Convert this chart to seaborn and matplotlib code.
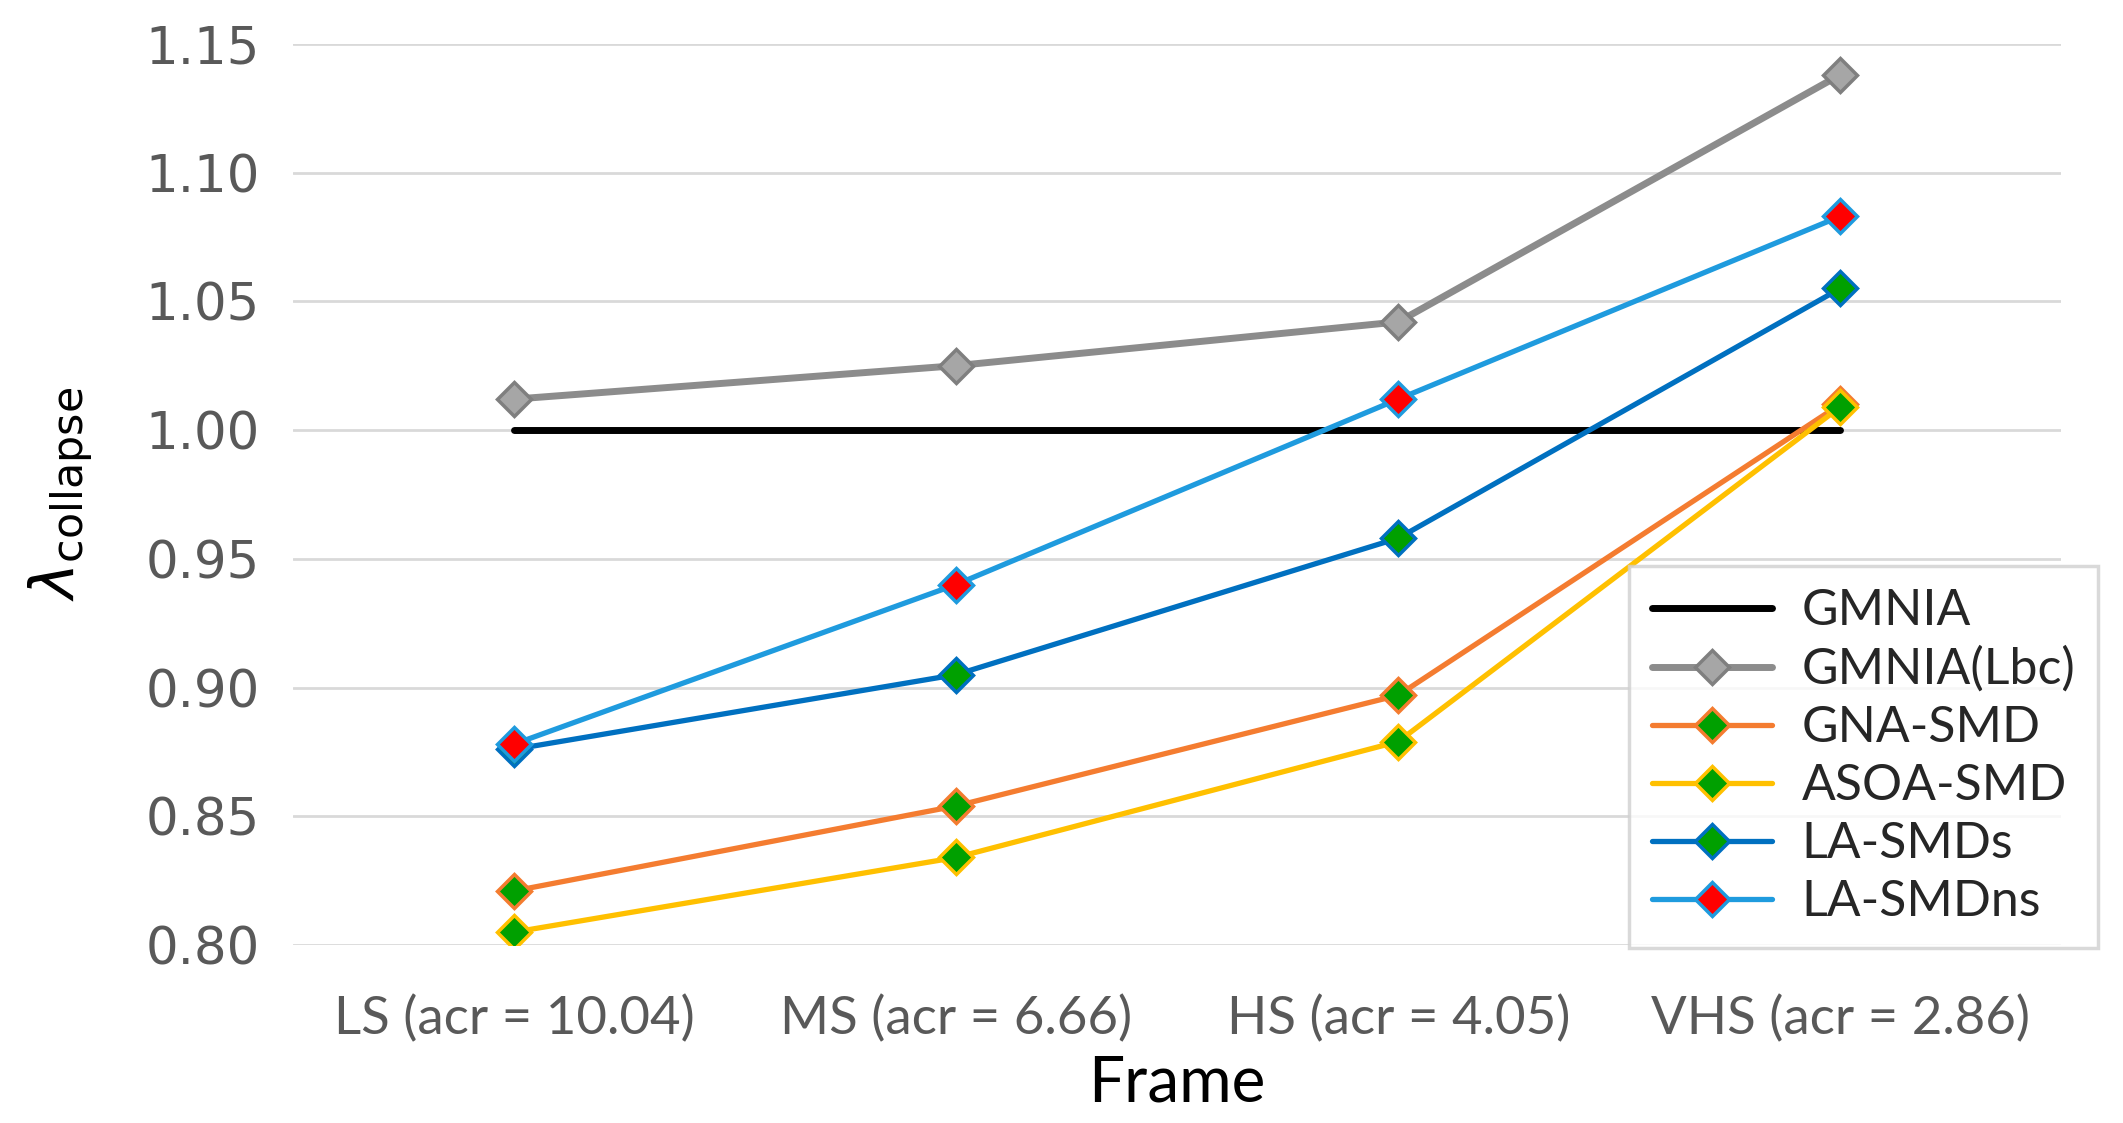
import numpy as np
import pandas as pd
import matplotlib
matplotlib.use("Agg")
import matplotlib.pyplot as plt
import seaborn as sns

frames = ["LS (acr = 10.04)", "MS (acr = 6.66)", "HS (acr = 4.05)", "VHS (acr = 2.86)"]

gmnia = [1.000, 1.000, 1.000, 1.000]
gmnia_lbc = [1.012, 1.025, 1.042, 1.138]
gna_smd = [0.821, 0.854, 0.897, 1.010]
asoa_smd = [0.805, 0.834, 0.879, 1.009]
la_smds = [0.876, 0.905, 0.958, 1.055]
la_smdns = [0.878, 0.940, 1.012, 1.083]

yticks = [0.80, 0.85, 0.90, 0.95, 1.00, 1.05, 1.10, 1.15]

sns.set_theme(style="white")
plt.rcParams['font.family'] = ['Lato', 'DejaVu Sans']

fig = plt.figure(figsize=(21.23, 11.23), dpi=100)
ax = fig.add_axes([0.138, 0.1585, 0.833, 0.8025])

# name, values, line colour, marker face, marker edge, line width
series = [
    ("GMNIA", gmnia, "#000000", None, None, 5.0),
    ("GMNIA(Lbc)", gmnia_lbc, "#8C8C8C", "#A6A6A6", "#7F7F7F", 5.0),
    ("GNA-SMD", gna_smd, "#F47C30", "#00A000", "#F47C30", 3.8),
    ("ASOA-SMD", asoa_smd, "#FFC000", "#00A000", "#FFC000", 3.8),
    ("LA-SMDs", la_smds, "#0070C0", "#00A000", "#0070C0", 3.8),
    ("LA-SMDns", la_smdns, "#1F9BDE", "#FF0000", "#1F9BDE", 3.8),
]

for name, vals, col, face, edge, lw in series:
    df = pd.DataFrame({"frame": frames, "lam": vals})
    if face is None:
        sns.lineplot(data=df, x="frame", y="lam", sort=False, color=col,
                     linewidth=lw, solid_capstyle="round", label=name, ax=ax)
    else:
        sns.lineplot(data=df, x="frame", y="lam", sort=False, color=col,
                     linewidth=lw, marker="D", markersize=17,
                     markerfacecolor=face, markeredgecolor=edge,
                     markeredgewidth=2.5, label=name, ax=ax)

ax.set_xlim(-0.5, 3.5)
ax.set_ylim(0.80, 1.15)
ax.set_yticks(yticks)
ax.set_yticklabels([f"{t:.2f}" for t in yticks], fontfamily="DejaVu Sans")
ax.yaxis.grid(True, color="#D9D9D9", linewidth=2)
ax.set_axisbelow(True)
for s in ax.spines.values():
    s.set_visible(False)
ax.tick_params(axis="x", length=0, labelsize=38, colors="#595959", pad=36)
ax.tick_params(axis="y", length=0, labelsize=37, colors="#595959", pad=24)

ax.set_xlabel("Frame", fontsize=46, color="black", labelpad=8)
ax.set_ylabel(r"$\lambda_{\mathrm{collapse}}$", fontsize=44, color="black", labelpad=36)

leg = ax.legend(loc="lower right", bbox_to_anchor=(1.0, 0.134),
                bbox_transform=fig.transFigure, fontsize=36,
                frameon=True, fancybox=False, edgecolor="#D0D0D0",
                handlelength=2.4, handletextpad=0.6, labelspacing=0.24,
                borderpad=0.45)
leg.get_frame().set_linewidth(2.5)

fig.savefig("out.png", dpi=100)
